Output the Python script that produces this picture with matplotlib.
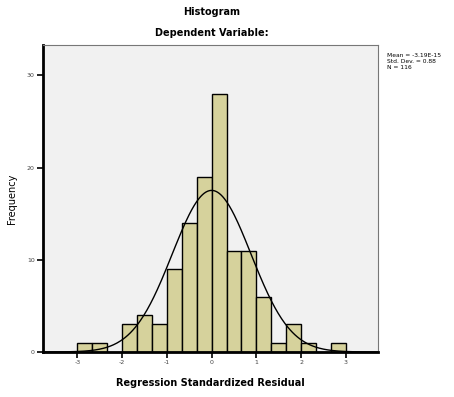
import numpy as np
import matplotlib
matplotlib.use("Agg")
import matplotlib.pyplot as plt

# Data
bin_edges = np.arange(-3, 3 + 1e-9, 1/3)
counts = [1, 1, 0, 3, 4, 3, 9, 14, 19, 28, 11, 11, 6, 1, 3, 1, 0, 1]
mean_val = -3.19e-15
sd_val = 0.88
n_val = 116
xticks = [-3, -2, -1, 0, 1, 2, 3]
yticks = [0, 10, 20, 30]

fig = plt.figure(figsize=(4.54, 3.97), dpi=100)
ax = fig.add_axes([0.0947, 0.1134, 0.8326 - 0.0947, 0.8866 - 0.1134])
ax.set_facecolor('#F1F1F1')

widths = np.diff(bin_edges)
ax.bar(bin_edges[:-1], counts, width=widths, align='edge',
       color='#D6D29C', edgecolor='black', linewidth=1.0, zorder=2)

xs = np.linspace(-3.77, 3.72, 400)
bw = 1/3
ys = n_val * bw / (sd_val * np.sqrt(2*np.pi)) * np.exp(-0.5*((xs - mean_val)/sd_val)**2)
ax.plot(xs, ys, color='black', linewidth=1.0, zorder=3)

ax.set_xlim(-3.77, 3.72)
ax.set_ylim(0, 33.3)
ax.set_xticks(xticks)
ax.set_xticklabels([str(t) for t in xticks], fontsize=4.5, color='#444444')
ax.set_yticks(yticks)
ax.set_yticklabels([str(t) for t in yticks], fontsize=4.5, color='#444444')
ax.tick_params(axis='both', direction='out', length=4, width=1.2, pad=2)

for s in ['left', 'bottom']:
    ax.spines[s].set_linewidth(2.0)
    ax.spines[s].set_color('black')
for s in ['top', 'right']:
    ax.spines[s].set_linewidth(0.8)
    ax.spines[s].set_color('#777777')

ax.set_xlabel('Regression Standardized Residual', fontsize=7, fontweight='bold', labelpad=9)
ax.set_ylabel('Frequency', fontsize=7, labelpad=7)

fig.text(0.467, 0.970, 'Histogram', ha='center', va='center', fontsize=7, fontweight='bold')
fig.text(0.467, 0.918, 'Dependent Variable:', ha='center', va='center', fontsize=7, fontweight='bold')

stats = 'Mean = -3.19E-15\nStd. Dev. = 0.88\nN = %d' % n_val
fig.text(0.852, 0.845, stats, ha='left', va='center', fontsize=4.3, linespacing=1.2)

fig.savefig('out.png', dpi=100)
